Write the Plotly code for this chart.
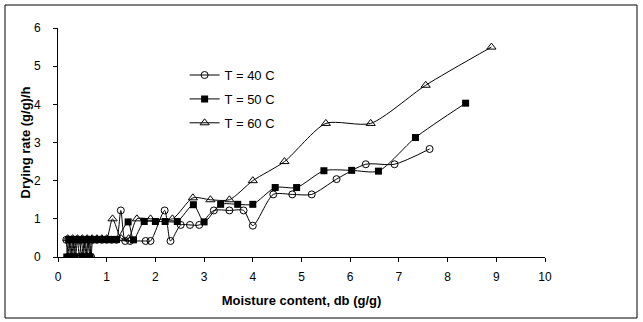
import plotly.graph_objects as go

# T = 40 C (open circles)
x40 = [0.17, 0.2, 0.24, 0.28, 0.32, 0.36, 0.4, 0.44, 0.48, 0.52, 0.56, 0.6, 0.64, 0.68, 0.72, 0.8, 0.9, 1.0, 1.1, 1.2,
       1.29, 1.38, 1.48, 1.8, 1.9, 2.19, 2.31, 2.52, 2.71, 2.9, 3.2, 3.52, 3.81, 4.0, 4.42, 4.81, 5.21, 5.72, 6.32, 6.91, 7.63]
y40 = [0.45, 0.0, 0.45, 0.0, 0.45, 0.0, 0.45, 0.0, 0.45, 0.0, 0.45, 0.0, 0.45, 0.0, 0.45, 0.45, 0.45, 0.45, 0.45, 0.45,
       1.22, 0.42, 0.42, 0.42, 0.42, 1.22, 0.42, 0.84, 0.84, 0.84, 1.22, 1.22, 1.22, 0.82, 1.64, 1.64, 1.64, 2.04, 2.43, 2.43, 2.83]

# T = 50 C (filled squares)
x50 = [0.18, 0.22, 0.26, 0.3, 0.34, 0.38, 0.42, 0.5, 0.54, 0.58, 0.62, 0.66, 0.7, 0.8, 0.9, 1.0, 1.1, 1.2,
       1.44, 1.55, 1.77, 2.0, 2.2, 2.45, 2.78, 3.0, 3.34, 3.69, 4.0, 4.46, 4.9, 5.46, 6.03, 6.58, 7.34, 8.37]
y50 = [0.0, 0.46, 0.0, 0.46, 0.0, 0.46, 0.46, 0.0, 0.46, 0.0, 0.46, 0.0, 0.46, 0.46, 0.46, 0.46, 0.46, 0.46,
       0.92, 0.45, 0.93, 0.93, 0.93, 0.93, 1.37, 0.92, 1.38, 1.38, 1.38, 1.82, 1.82, 2.26, 2.27, 2.25, 3.13, 4.03]

# T = 60 C (open triangles)
x60 = [0.2, 0.3, 0.4, 0.5, 0.6, 0.7, 0.8, 0.9, 1.0, 1.12, 1.3, 1.45, 1.62, 1.9, 2.35, 2.77, 3.13, 3.52, 4.0,
       4.65, 5.5, 6.42, 7.55, 8.9]
y60 = [0.48, 0.48, 0.48, 0.48, 0.48, 0.48, 0.48, 0.48, 0.48, 1.0, 0.48, 0.48, 1.0, 1.0, 1.0, 1.55, 1.5, 1.5, 2.0,
       2.5, 3.5, 3.5, 4.5, 5.5]

series = [
    ("T = 40 C", x40, y40, dict(symbol="circle-open", size=7, color="black", line=dict(width=1, color="black"))),
    ("T = 50 C", x50, y50, dict(symbol="square", size=7, color="black", line=dict(width=0))),
    ("T = 60 C", x60, y60, dict(symbol="triangle-up-open", size=8, color="black", line=dict(width=1, color="black"))),
]

fig = go.Figure()
for i, (name, xs, ys, mk) in enumerate(series):
    fig.add_trace(go.Scatter(
        x=xs, y=ys, name=name, mode="lines+markers", legendgroup=f"g{i}",
        line=dict(color="black", width=1, shape="spline", smoothing=0.7),
        marker=mk,
    ))

fam = "Liberation Sans, Arial, sans-serif"

fig.update_layout(
    width=643, height=322,
    margin=dict(l=58, r=98, t=28, b=65),
    paper_bgcolor="white", plot_bgcolor="white",
    font=dict(family=fam, size=12, color="black"),
    showlegend=True,
    legend=dict(x=0.26, y=0.86, xanchor="left", yanchor="top", bgcolor="rgba(0,0,0,0)",
                font=dict(family=fam, size=13, color="black"),
                itemwidth=30, tracegroupgap=4),
    xaxis=dict(range=[0, 10], dtick=1, showgrid=False, zeroline=False, showline=True, linecolor="black",
               linewidth=1, ticks="outside", ticklen=4, tickcolor="black", ticklabelstandoff=5,
               tickfont=dict(size=12),
               title=dict(text="<b>Moisture content, db (g/g)</b>", font=dict(size=13), standoff=12)),
    yaxis=dict(range=[0, 6], dtick=1, showgrid=False, zeroline=False, showline=True, linecolor="black",
               linewidth=1, ticks="outside", ticklen=4, tickcolor="black", ticklabelstandoff=10,
               tickfont=dict(size=12),
               title=dict(text="<b>Drying rate (g/g)/h</b>", font=dict(size=13), standoff=0)),
    shapes=[dict(type="rect", xref="paper", yref="paper",
                 x0=(5 - 58) / 487, x1=(637 - 58) / 487, y0=(322 - 318 - 65) / 229, y1=(322 - 5 - 65) / 229,
                 line=dict(color="black", width=1), fillcolor="rgba(0,0,0,0)", layer="below")],
)

fig.write_html("out.html")
